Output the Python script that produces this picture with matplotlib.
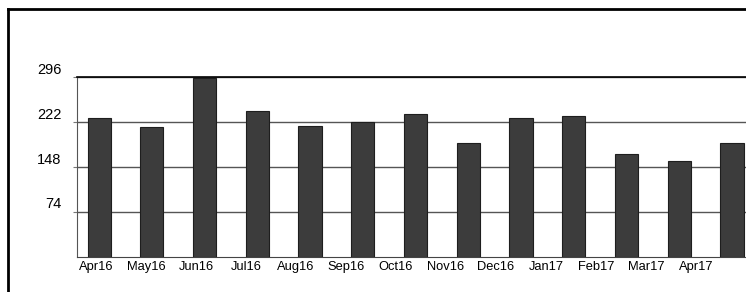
import matplotlib.pyplot as plt
from matplotlib.lines import Line2D
from matplotlib.transforms import ScaledTranslation

plt.rcParams['font.family'] = ['Liberation Sans', 'DejaVu Sans']

# Data
months = ["Apr16", "May16", "Jun16", "Jul16", "Aug16", "Sep16", "Oct16",
          "Nov16", "Dec16", "Jan17", "Feb17", "Mar17", "Apr17"]
values = [228, 214, 295, 241, 215, 222, 235, 187, 228, 232, 169, 158, 187]
yticks = [74, 148, 222, 296]

fig = plt.figure(figsize=(7.46, 2.92), dpi=100)
ax = fig.add_axes([0.1032, 0.12, 0.8968, 0.616])

x = list(range(len(months)))
ax.bar(x, values, width=0.44, color="#3c3c3c", edgecolor="#1e1e1e", linewidth=0.8, zorder=3)

ax.set_ylim(0, 296)
ax.set_xlim(-0.42, 12.265)
ax.set_yticks(yticks)
ax.set_yticklabels([str(v) for v in yticks])
# the scanned labels sit slightly tighter than the bars
ax.set_xticks([i * 0.948 - 0.06 for i in x])
ax.set_xticklabels(months)
ax.grid(axis="y", color="#555555", linewidth=1.0, zorder=0)

ax.tick_params(axis="y", length=3, width=0.8, color="#777777", labelsize=10.5, pad=8)
ax.tick_params(axis="x", length=0, labelsize=9.3, pad=3)
for lab in ax.get_yticklabels():
    lab.set_transform(lab.get_transform() + ScaledTranslation(0, 9 / 100, fig.dpi_scale_trans))

ax.spines["right"].set_visible(False)
ax.spines["top"].set_color("black")
ax.spines["top"].set_linewidth(1.2)
ax.spines["left"].set_color("#555555")
ax.spines["bottom"].set_color("#444444")

# outer frame of the scanned page
fig.add_artist(Line2D([0.011, 1.0], [0.969, 0.969], transform=fig.transFigure, color="black", linewidth=2))
fig.add_artist(Line2D([0.011, 0.011], [0.0, 0.969], transform=fig.transFigure, color="black", linewidth=2))

fig.savefig("out.png", dpi=100)
